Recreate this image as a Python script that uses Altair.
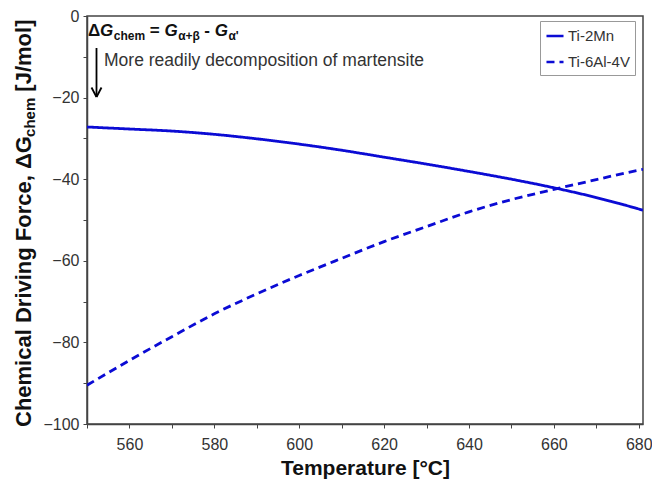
import altair as alt
import pandas as pd

# ---------------- data ----------------
temps = [550, 560, 570, 580, 590, 600, 610, 620, 630, 640, 650, 660, 670, 680, 681]
ti2mn = [-27.2, -27.7, -28.2, -29.0, -30.1, -31.4, -32.9, -34.6, -36.3, -38.1,
         -40.0, -42.1, -44.5, -47.3, -47.6]
ti64 = [-90.5, -84.4, -78.6, -73.0, -68.1, -63.6, -59.4, -55.3, -51.6, -48.0,
        -45.0, -42.5, -40.1, -37.8, -37.6]
series_names = ["Ti-2Mn", "Ti-6Al-4V"]
x_ticks = list(range(550, 681, 10))
y_ticks = list(range(-100, 1, 10))

rows = []
for name, vals in zip(series_names, [ti2mn, ti64]):
    for t, v in zip(temps, vals):
        rows.append({"T": t, "G": v, "series": name})
df = pd.DataFrame(rows)

FONT = "Liberation Sans"
BLUE = "#0b0bd4"
W, H = 556, 408
PL, PT = 87, 16  # plot origin in page pixels

lines = alt.Chart(df).mark_line(strokeWidth=2.8, clip=True, interpolate="monotone").encode(
    x=alt.X("T:Q", scale=alt.Scale(domain=[550, 681], nice=False, zero=False),
            axis=alt.Axis(values=x_ticks, title="Temperature [°C]",
                          labelExpr="datum.value % 20 == 0 ? datum.label : ''",
                          titleY=50, titleBaseline="alphabetic", titleX=W / 2)),
    y=alt.Y("G:Q", scale=alt.Scale(domain=[-100, 0], nice=False, zero=False),
            axis=alt.Axis(values=y_ticks, title=None,
                          labelExpr="datum.value % 20 == 0 ? datum.label : ''")),
    color=alt.Color("series:N", scale=alt.Scale(domain=series_names, range=[BLUE, BLUE]),
                    legend=alt.Legend(title=None, orient="none", legendX=453, legendY=5)),
    strokeDash=alt.StrokeDash("series:N",
                              scale=alt.Scale(domain=series_names, range=[[1, 0], [8, 5]]),
                              legend=alt.Legend(title=None, orient="none", legendX=453, legendY=5)),
)

one = pd.DataFrame({"a": [0]})


def txt(s, x, y, size, weight="bold", style="normal", color="#111", angle=0):
    kw = dict(text=s, fontSize=size, fontWeight=weight, fontStyle=style, font=FONT,
              color=color, align="left", baseline="alphabetic")
    if angle:
        kw["angle"] = angle
    return alt.Chart(one).mark_text(**kw).encode(x=alt.value(x - PL), y=alt.value(y - PT))


# --- approximate Arial-Bold advance widths (per 1000 em) for rich-text layout
WID = {" ": 278, ",": 278, "/": 278, "[": 333, "]": 333, "C": 722, "D": 722, "F": 611,
       "G": 778, "J": 556, "a": 556, "c": 556, "e": 556, "g": 611, "h": 611, "i": 278,
       "l": 278, "m": 889, "n": 611, "o": 611, "r": 389, "v": 556, "Δ": 680,
       "=": 584, "+": 584, "-": 333, "'": 238, "α": 600, "β": 600}


def width(s, size):
    return sum(WID.get(ch, 600) for ch in s) * size / 1000.0


# ---- y-axis title (rotated, with subscript)
ytf = 22
ysub = 15
ybase_x = 31
ystart = 427
p1 = "Chemical Driving Force, ΔG"
p2 = "chem"
p3 = "[J/mol]"
y1 = ystart
y2 = y1 - width(p1, ytf)
y3 = y2 - width(p2, ysub) - width(" ", ytf)
ytitle = [
    txt(p1, ybase_x, y1, ytf, angle=270),
    txt(p2, ybase_x + 4, y2, ysub, angle=270),
    txt(p3, ybase_x, y3, ytf, angle=270),
]

# ---- formula annotation (rich text laid out piece by piece; gaps in px)
MF, SF = 17, 12
MB, SB = 36, 40
SP = width(" ", MF)
pieces = [("Δ", MF, MB, "normal", 0), ("G", MF, MB, "italic", 0.5),
          ("chem", SF, SB, "normal", 0.5),
          ("=", MF, MB, "normal", SP), ("G", MF, MB, "italic", SP),
          ("α+β", SF, SB, "normal", 0.5),
          ("-", MF, MB, "normal", SP), ("G", MF, MB, "italic", SP),
          ("α'", SF, SB, "normal", 0.5)]
formula = []
cx = 88.0
for s, fs, by, st, gap in pieces:
    cx += gap
    formula.append(txt(s, cx, by, fs, style=st))
    cx += width(s, fs)

formula.append(txt("More readily decomposition of martensite", 104, 66, 17.5,
                   weight="normal", color="#333"))

ax = 96.5 - PL
arrow = [
    alt.Chart(one).mark_rule(color="black", strokeWidth=1.8).encode(
        x=alt.value(ax), x2=alt.value(ax), y=alt.value(48 - PT), y2=alt.value(97 - PT)),
    alt.Chart(one).mark_rule(color="black", strokeWidth=1.8).encode(
        x=alt.value(ax - 5), x2=alt.value(ax), y=alt.value(87.5 - PT), y2=alt.value(97 - PT)),
    alt.Chart(one).mark_rule(color="black", strokeWidth=1.8).encode(
        x=alt.value(ax + 5), x2=alt.value(ax), y=alt.value(87.5 - PT), y2=alt.value(97 - PT)),
]

chart = alt.layer(lines, *ytitle, *formula, *arrow).properties(
    width=W, height=H,
    autosize=alt.AutoSizeParams(type="none"),
    padding={"left": PL, "top": PT, "right": 652 - PL - W, "bottom": 482 - PT - H},
    background="white",
).configure_view(
    stroke="#444", strokeWidth=1.5
).configure_axis(
    grid=False, domainColor="#444", domainWidth=1.5, tickColor="#444", tickSize=4,
    tickWidth=1, labelFont=FONT, labelFontSize=16, labelColor="#333",
    titleFont=FONT, titleFontSize=21, titleFontWeight="bold", titleColor="#111",
).configure_axisX(
    labelPadding=8
).configure_axisY(
    labelPadding=4
).configure_legend(
    strokeColor="#999", strokeWidth=1, padding=5, labelFont=FONT, labelFontSize=15,
    labelColor="#333", symbolType="stroke", symbolStrokeWidth=2.5, symbolSize=290,
    rowPadding=8, fillColor="white", labelOffset=3
)

chart.save("out.html", embed_options={"renderer": "svg", "actions": False})
